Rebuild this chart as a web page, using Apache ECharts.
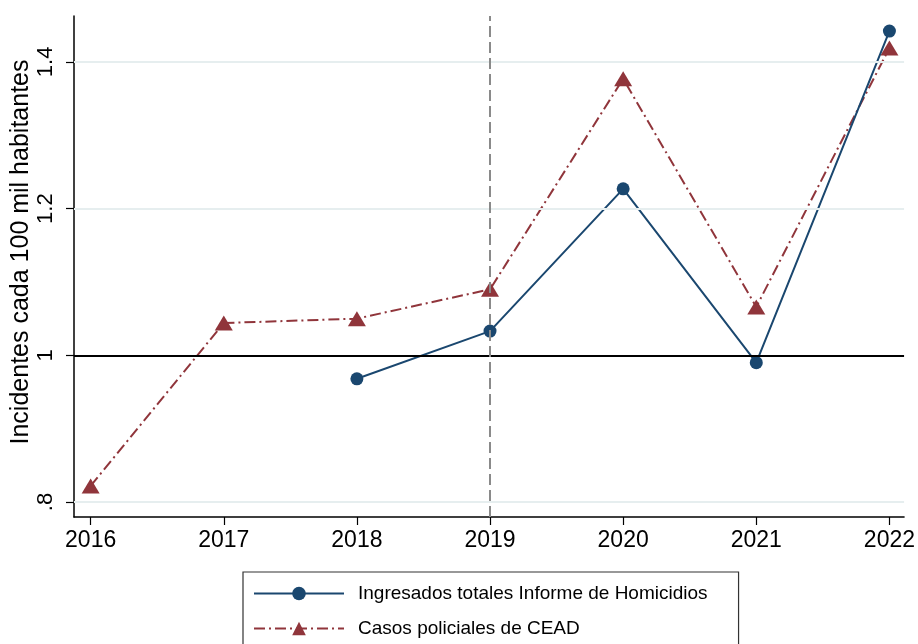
<!DOCTYPE html>
<html>
<head>
<meta charset="utf-8">
<script src="https://cdn.jsdelivr.net/npm/echarts@6/dist/echarts.min.js"></script>
<style>
  html, body { margin: 0; padding: 0; background: #fff; }
  #chart { width: 918px; height: 644px; }
</style>
</head>
<body>
<div id="chart"></div>
<script>
// Años del eje horizontal
const years = [2016, 2017, 2018, 2019, 2020, 2021, 2022];
// Ingresados totales (Informe de Homicidios), desde 2018
const ingresadosYears = [2018, 2019, 2020, 2021, 2022];
const ingresados = [0.968, 1.033, 1.227, 0.990, 1.442];
// Casos policiales (CEAD)
const casos = [0.822, 1.044, 1.050, 1.090, 1.377, 1.066, 1.419];
// Marcas del eje vertical
const yTicks = [0.8, 1, 1.2, 1.4];
const yTickLabels = ['.8', '1', '1.2', '1.4'];
const gridValues = [0.8, 1.2, 1.4];
const referenceValue = 1;
const markerYear = 2019;

const FONT = '"Liberation Sans", Arial, Helvetica, sans-serif';
const BLUE = '#1a476f';
const RED = '#90353b';

const chart = echarts.init(document.getElementById('chart'), null, { renderer: 'canvas' });

const yLabelFor = v => {
  const i = yTicks.findIndex(t => Math.abs(t - v) < 1e-6);
  return i >= 0 ? yTickLabels[i] : '';
};

chart.setOption({
  backgroundColor: '#ffffff',
  animation: false,
  grid: { left: 74, right: 12, top: 16, bottom: 127, containLabel: false },
  xAxis: {
    type: 'value',
    min: 2015.875,
    max: 2022.11,
    axisLine: { show: true, onZero: false, lineStyle: { color: '#000', width: 1.5 } },
    axisTick: { show: true, customValues: years, length: 8, lineStyle: { color: '#000', width: 1.2 } },
    axisLabel: {
      customValues: years,
      formatter: v => String(Math.round(v)),
      color: '#000', fontFamily: FONT, fontSize: 23, margin: 12
    },
    splitLine: { show: false }
  },
  yAxis: {
    type: 'value',
    min: 0.7796,
    max: 1.4626,
    axisLine: { show: true, onZero: false, lineStyle: { color: '#000', width: 1.5 } },
    axisTick: { show: true, customValues: yTicks, length: 8, lineStyle: { color: '#000', width: 1.2 } },
    axisLabel: {
      customValues: yTicks,
      formatter: yLabelFor,
      rotate: 90,
      color: '#000', fontFamily: FONT, fontSize: 22, margin: 17
    },
    splitLine: { show: false }
  },
  legend: {
    orient: 'vertical',
    left: 243,
    top: 572,
    height: 200,
    padding: [12, 31, 14, 10],
    itemGap: 16,
    itemWidth: 90,
    itemHeight: 17,
    borderColor: '#333',
    borderWidth: 1.2,
    backgroundColor: '#fff',
    selectedMode: false,
    textStyle: { color: '#000', fontFamily: FONT, fontSize: 19, padding: [0, 0, 0, 9] },
    data: ['Ingresados totales Informe de Homicidios', 'Casos policiales de CEAD']
  },
  graphic: [{
    type: 'text',
    x: 21,
    y: 252,
    rotation: Math.PI / 2,
    style: {
      text: 'Incidentes cada 100 mil habitantes',
      fontFamily: FONT,
      fontSize: 25,
      fill: '#000',
      textAlign: 'center',
      textVerticalAlign: 'middle'
    }
  }],
  series: [
    {
      // Rejilla horizontal, línea de referencia y línea vertical de 2019
      type: 'line',
      data: [],
      z: 1,
      silent: true,
      markLine: {
        silent: true,
        symbol: 'none',
        label: { show: false },
        animation: false,
        data: [
          ...gridValues.map(v => ({ yAxis: v, lineStyle: { color: '#e6eeef', width: 2, type: 'solid' } })),
          { yAxis: referenceValue, lineStyle: { color: '#000', width: 2, type: 'solid' } },
          { xAxis: markerYear, lineStyle: { color: '#8a8a8a', width: 2, type: [11, 5] } }
        ]
      }
    },
    {
      name: 'Ingresados totales Informe de Homicidios',
      type: 'line',
      z: 4,
      data: ingresadosYears.map((y, i) => [y, ingresados[i]]),
      symbol: 'circle',
      symbolSize: 13,
      itemStyle: { color: BLUE },
      lineStyle: { color: BLUE, width: 2 }
    },
    {
      name: 'Casos policiales de CEAD',
      type: 'line',
      z: 3,
      data: years.map((y, i) => [y, casos[i]]),
      symbol: 'triangle',
      symbolSize: [18, 15],
      itemStyle: { color: RED },
      lineStyle: { color: RED, width: 2, type: [11, 4, 2, 4] }
    }
  ]
});
</script>
</body>
</html>
